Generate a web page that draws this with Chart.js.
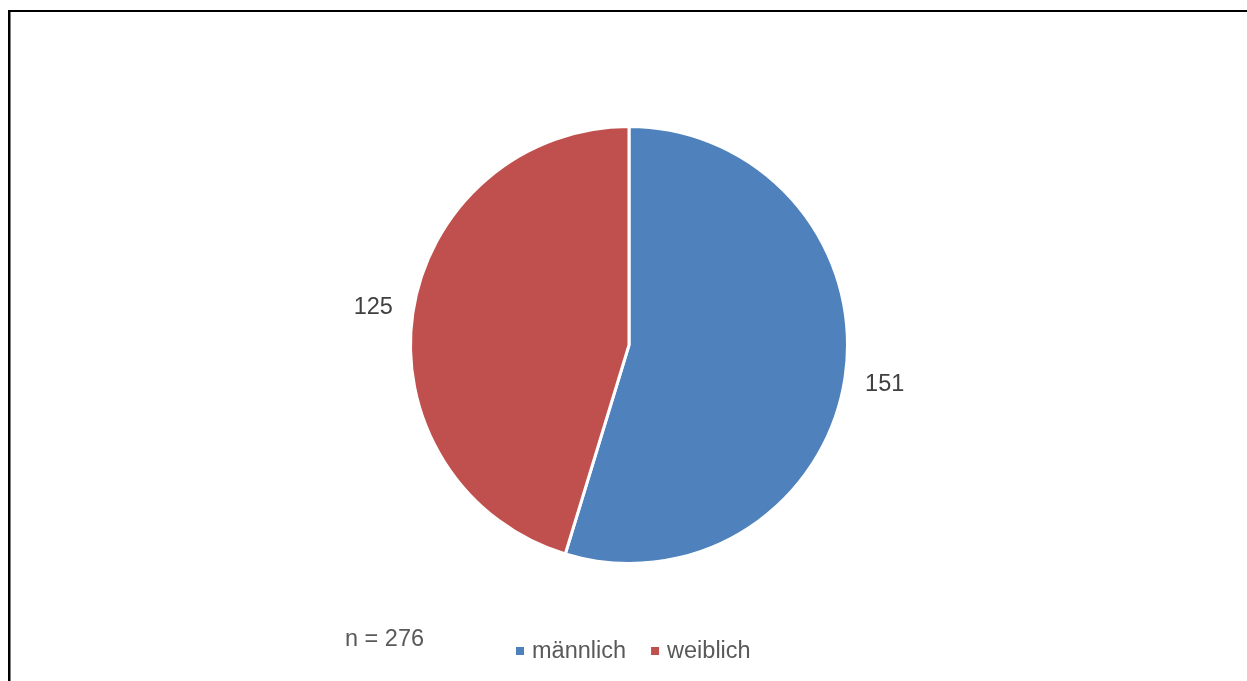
<!DOCTYPE html>
<html lang="de">
<head>
<meta charset="utf-8">
<title>Geschlecht</title>
<script src="https://cdn.jsdelivr.net/npm/chart.js@4/dist/chart.umd.min.js"></script>
<style>
  html, body { margin: 0; padding: 0; background: #fff; }
  body { width: 1247px; height: 681px; position: relative; overflow: hidden; }
  .frame {
    position: absolute; left: 8px; top: 10px; right: -4px; bottom: -4px;
    border-top: 2px solid #000; border-left: 2px solid #000;
    box-shadow: inset 1px 0 0 #7f7f7f;
  }
  #chart { position: absolute; left: 0; top: 0; }
</style>
</head>
<body>
<div class="frame"></div>
<canvas id="chart" width="1247" height="681"></canvas>
<script>
// ── Data ───────────────────────────────────────────────────────────────────
const CATEGORIES = ["männlich", "weiblich"];
const COUNTS     = [151, 125];
const COLORS     = ["#4f81bd", "#c0504d"];
const SAMPLE_NOTE = "n = 276";

const FONT = "'Liberation Sans', Arial, sans-serif";

// ── Labels outside each slice, plus sample size and legend ─────────────────
const annotations = {
  id: "annotations",
  afterDatasetsDraw(chart) {
    const ctx = chart.ctx;
    const arcs = chart.getDatasetMeta(0).data;

    ctx.save();
    ctx.font = `23.5px ${FONT}`;
    ctx.fillStyle = "#404040";
    ctx.textAlign = "center";
    ctx.textBaseline = "middle";
    arcs.forEach((arc, i) => {
      const mid = (arc.startAngle + arc.endAngle) / 2;
      const r = arc.outerRadius + 40;
      ctx.fillText(String(COUNTS[i]), arc.x + Math.cos(mid) * r, arc.y + Math.sin(mid) * r + 1);
    });

    // sample size, bottom left
    ctx.fillStyle = "#595959";
    ctx.textAlign = "left";
    ctx.textBaseline = "alphabetic";
    ctx.fillText(SAMPLE_NOTE, 345, 646);

    // legend
    let x = 516;
    CATEGORIES.forEach((name, i) => {
      ctx.fillStyle = COLORS[i];
      ctx.fillRect(x, 647, 8, 8);
      ctx.fillStyle = "#595959";
      ctx.fillText(name, x + 16, 658);
      x += 16 + ctx.measureText(name).width + 25;
    });
    ctx.restore();
  },
};

new Chart(document.getElementById("chart"), {
  type: "pie",
  data: {
    labels: CATEGORIES,
    datasets: [{
      data: COUNTS,
      backgroundColor: COLORS,
      borderColor: "#ffffff",
      borderWidth: 3,
    }],
  },
  options: {
    responsive: false,
    animation: false,
    layout: { padding: { top: 125, bottom: 116, left: 409, right: 398 } },
    plugins: {
      legend: { display: false },
      tooltip: { enabled: false },
    },
  },
  plugins: [annotations],
});
</script>
</body>
</html>
